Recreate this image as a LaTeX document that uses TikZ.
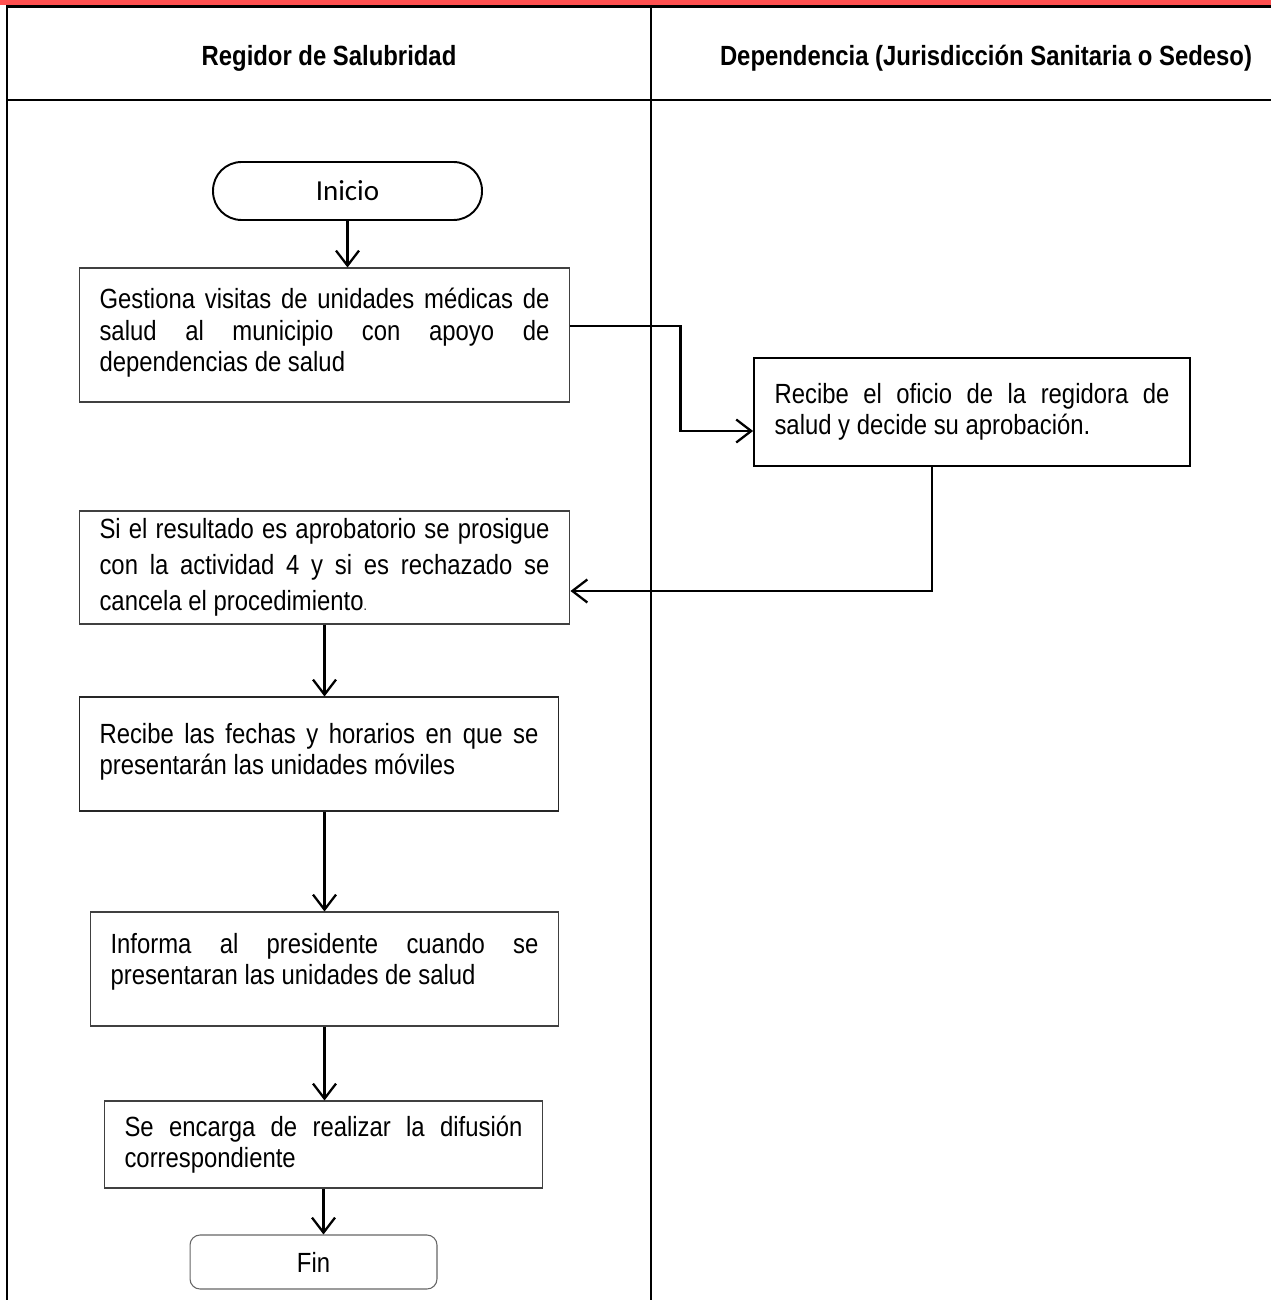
\documentclass[tikz,border=0pt]{standalone}
\usepackage{fontspec}
\setmainfont{Liberation Sans}[FakeStretch=0.86]
\newfontfamily\calibri{Carlito}
\usetikzlibrary{arrows.meta}
\definecolor{bandred}{RGB}{255,80,80}
\hyphenpenalty=10000
\exhyphenpenalty=10000
\newcommand{\lowdepth}[1]{\rule[-#1]{0pt}{#1}}

\begin{document}
\begin{tikzpicture}[x=0.02cm, y=-0.02cm,
  frame/.style={line width=1.4pt},
  actbox/.style={draw=black!75, line width=0.6pt, align=justify, inner xsep=0.41cm,
    font=\fontsize{15.8}{18}\selectfont},
  lanehead/.style={font=\bfseries\fontsize{15.8}{18}\selectfont},
  arr/.style={line width=1.3pt, -{Straight Barb[length=0.3cm, width=0.46cm]}}]
  \useasboundingbox (0,0) rectangle (1271,1300);

  % Lanes
  \fill[bandred] (0,0) rectangle (1271,5);
  \draw[frame] (7,6.5) -- (1271,6.5);
  \draw[frame] (7,5) -- (7,1300);
  \draw[frame] (651,5) -- (651,1300);
  \draw[frame] (7,100) -- (1271,100);
  \node[lanehead] (lane1) at (329,58) {Regidor de Salubridad};
  \node[lanehead] (lane2) at (986,58) {Dependencia (Jurisdicción Sanitaria o Sedeso)};

  % Terminals
  \node[draw, line width=1.1pt, rounded corners=0.57cm, minimum width=5.38cm,
    minimum height=1.16cm, font=\calibri\fontsize{16.5}{18}\selectfont] (start) at (347.5,191) {Inicio};
  \node[draw=black!60, line width=0.6pt, rounded corners=0.2cm, minimum width=4.94cm,
    minimum height=1.08cm, font=\fontsize{15.8}{18}\selectfont] (fin) at (313.5,1262) {Fin};

  % Activities
  \node[actbox, text width=9cm, minimum width=9.82cm, minimum height=2.68cm] (b1) at (324.5,335)
    {Gestiona visitas de unidades médicas de\linebreak salud al municipio con apoyo de\linebreak dependencias de salud\lowdepth{0.2cm}};
  \node[actbox, draw=black, line width=1.1pt, text width=7.9cm, minimum width=8.72cm, minimum height=2.16cm] (b2) at (972,412)
    {Recibe el oficio de la regidora de\linebreak salud y decide su aprobación.};
  \node[actbox, text width=9cm, minimum width=9.82cm, minimum height=2.26cm,
    font=\fontsize{15.8}{20.5}\selectfont] (b3) at (324.5,567.5)
    {Si el resultado es aprobatorio se prosigue\linebreak con la actividad 4 y si es rechazado se\linebreak cancela el procedimiento{\footnotesize.}};
  \node[actbox, draw=black!85, text width=8.78cm, minimum width=9.6cm, minimum height=2.28cm] (b4) at (319,754)
    {Recibe las fechas y horarios en que se\linebreak presentarán las unidades móviles\lowdepth{0.2cm}};
  \node[actbox, text width=8.56cm, minimum width=9.38cm, minimum height=2.28cm] (b5) at (324.5,969)
    {Informa al presidente cuando se\linebreak presentaran las unidades de salud\lowdepth{0.4cm}};
  \node[actbox, text width=7.96cm, minimum width=8.78cm, minimum height=1.74cm] (b6) at (323.5,1144.5)
    {Se encarga de realizar la difusión\linebreak correspondiente};

  % Connectors
  \draw[arr] (start.south) -- (start.south |- b1.north);
  \draw[arr] ([yshift=0.18cm]b1.east) -- ++(110,0) |- ([yshift=-0.38cm]b2.west);
  \draw[arr] ([xshift=-0.8cm]b2.south) |- ([yshift=-0.47cm]b3.east);
  \draw[arr] (b3.south) -- (b3.south |- b4.north);
  \draw[arr] (b5.north |- b4.south) -- (b5.north);
  \draw[arr] (b5.south) -- (b5.south |- b6.north);
  \draw[arr] (b6.south) -- (b6.south |- fin.north);
\end{tikzpicture}
\end{document}
